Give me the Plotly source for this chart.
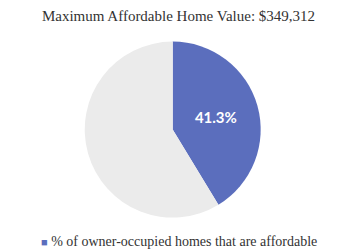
import plotly.graph_objects as go

labels = ["% of owner-occupied homes that are affordable", "Not affordable"]
values = [41.3, 58.7]
colors = ["#5b6ebd", "#ebebeb"]
slice_text = ["41.3%", ""]
title_text = "Maximum Affordable Home Value: $349,312"

fig = go.Figure()
fig.add_trace(go.Pie(
    labels=labels, values=values, sort=False, direction="clockwise", rotation=0,
    marker=dict(colors=colors, line=dict(width=0)),
    text=slice_text, textinfo="text", textposition="inside",
    insidetextfont=dict(family="Lato, Roboto, sans-serif", size=15, color="white", weight="bold"),
    showlegend=False, hoverinfo="label+percent",
    domain=dict(x=[0.225, 0.741], y=[0.15, 0.885]),
))
fig.add_annotation(
    text=f'<span style="color:{colors[0]};font-size:11px">■</span> {labels[0]}',
    x=0.5, xanchor="center", y=0.075, yanchor="middle", xref="paper", yref="paper",
    showarrow=False,
    font=dict(family="Liberation Serif, serif", size=14, color="#333333"),
)
fig.update_layout(
    width=341, height=252,
    margin=dict(l=0, r=0, t=0, b=0),
    paper_bgcolor="white", plot_bgcolor="white",
    showlegend=False,
    title=dict(text=title_text, x=0.5, xanchor="center", y=0.97, yanchor="middle",
               font=dict(family="Liberation Serif, serif", size=15, color="#333333")),
)
fig.write_html("out.html")
